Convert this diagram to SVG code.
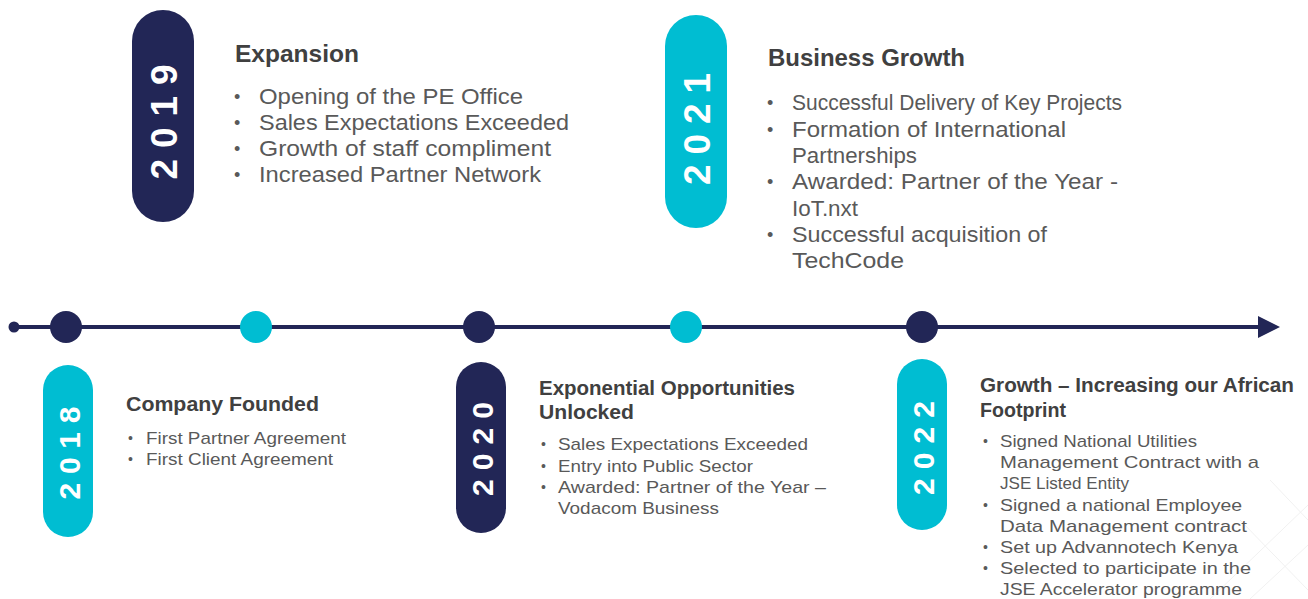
<svg xmlns="http://www.w3.org/2000/svg" width="1308" height="599" viewBox="0 0 1308 599">
<style>
.bg{fill:#ffffff}
.navy{fill:#222656}
.cyan{fill:#00BDD2}
.year{font-family:"Liberation Sans",Arial,sans-serif;font-weight:bold;fill:#ffffff;text-anchor:middle}
.title{font-family:"Liberation Sans",Arial,sans-serif;font-weight:bold;fill:#404040}
.t1{font-size:24px}
.t2{font-size:20px}
.item{font-family:"Liberation Sans",Arial,sans-serif;fill:#595959}
.i1{font-size:22px}
.i2{font-size:17px}
.b1{font-size:18px}
.b2{font-size:14px}
.deco{stroke:#f1f1f1;stroke-width:1;fill:none}
</style>
<rect class="bg" x="0" y="0" width="1308" height="599"/>

<g id="background-decoration">
  <line class="deco" x1="1250" y1="599" x2="1308" y2="545"/>
  <line class="deco" x1="1210" y1="599" x2="1308" y2="505"/>
  <line class="deco" x1="1240" y1="520" x2="1308" y2="590"/>
  <line class="deco" x1="1270" y1="480" x2="1308" y2="520"/>
</g>

<g id="connectors">
  <line x1="14" y1="327" x2="1262" y2="327" stroke="#222656" stroke-width="4"/>
  <circle class="navy" cx="14" cy="327" r="5.5"/>
  <polygon class="navy" points="1258,316 1280,327 1258,338"/>
</g>

<g id="markers">
  <circle class="navy" cx="66" cy="327" r="16"/>
  <circle class="cyan" cx="256" cy="327" r="16"/>
  <circle class="navy" cx="479" cy="327" r="16"/>
  <circle class="cyan" cx="686" cy="327" r="16"/>
  <circle class="navy" cx="922" cy="327" r="16"/>
</g>

<g id="node-2019">
  <rect class="navy" x="132" y="10" width="62" height="212" rx="31"/>
  <text class="year" font-size="37" transform="translate(177,122) rotate(-90)" textLength="115" lengthAdjust="spacing">2019</text>
  <text class="title t1" x="235" y="62" textLength="124" lengthAdjust="spacingAndGlyphs">Expansion</text>
  <g class="item i1">
    <text class="b1" x="234" y="103">•</text><text x="259" y="104" textLength="264" lengthAdjust="spacingAndGlyphs">Opening of the PE Office</text>
    <text class="b1" x="234" y="129">•</text><text x="259" y="130" textLength="310" lengthAdjust="spacingAndGlyphs">Sales Expectations Exceeded</text>
    <text class="b1" x="234" y="155">•</text><text x="259" y="156" textLength="292" lengthAdjust="spacingAndGlyphs">Growth of staff compliment</text>
    <text class="b1" x="234" y="181">•</text><text x="259" y="182" textLength="282" lengthAdjust="spacingAndGlyphs">Increased Partner Network</text>
  </g>
</g>

<g id="node-2021">
  <rect class="cyan" x="665" y="15" width="62" height="213" rx="31"/>
  <text class="year" font-size="37" transform="translate(710,129) rotate(-90)" textLength="112" lengthAdjust="spacing">2021</text>
  <text class="title t1" x="768" y="66" textLength="197" lengthAdjust="spacingAndGlyphs">Business Growth</text>
  <g class="item i1">
    <text class="b1" x="767" y="109">•</text><text x="792" y="110" textLength="330" lengthAdjust="spacingAndGlyphs">Successful Delivery of Key Projects</text>
    <text class="b1" x="767" y="136">•</text><text x="792" y="137" textLength="274" lengthAdjust="spacingAndGlyphs">Formation of International</text>
    <text x="792" y="163" textLength="125" lengthAdjust="spacingAndGlyphs">Partnerships</text>
    <text class="b1" x="767" y="188">•</text><text x="792" y="189" textLength="326" lengthAdjust="spacingAndGlyphs">Awarded: Partner of the Year -</text>
    <text x="792" y="216" textLength="66" lengthAdjust="spacingAndGlyphs">IoT.nxt</text>
    <text class="b1" x="767" y="241">•</text><text x="792" y="242" textLength="255" lengthAdjust="spacingAndGlyphs">Successful acquisition of</text>
    <text x="792" y="268" textLength="112" lengthAdjust="spacingAndGlyphs">TechCode</text>
  </g>
</g>

<g id="node-2018">
  <rect class="cyan" x="43" y="365" width="50" height="172" rx="25"/>
  <text class="year" font-size="30" transform="translate(79.5,453) rotate(-90)" textLength="93" lengthAdjust="spacing">2018</text>
  <text class="title t2" x="126" y="411" textLength="193" lengthAdjust="spacingAndGlyphs">Company Founded</text>
  <g class="item i2">
    <text class="b2" x="128" y="443">•</text><text x="146" y="444" textLength="200" lengthAdjust="spacingAndGlyphs">First Partner Agreement</text>
    <text class="b2" x="128" y="464">•</text><text x="146" y="465" textLength="187" lengthAdjust="spacingAndGlyphs">First Client Agreement</text>
  </g>
</g>

<g id="node-2020">
  <rect class="navy" x="456" y="362" width="50" height="171" rx="25"/>
  <text class="year" font-size="30" transform="translate(492.5,449) rotate(-90)" textLength="94" lengthAdjust="spacing">2020</text>
  <text class="title t2" x="539" y="395" textLength="256" lengthAdjust="spacingAndGlyphs">Exponential Opportunities</text>
  <text class="title t2" x="539" y="419" textLength="95" lengthAdjust="spacingAndGlyphs">Unlocked</text>
  <g class="item i2">
    <text class="b2" x="541" y="449">•</text><text x="558" y="450" textLength="250" lengthAdjust="spacingAndGlyphs">Sales Expectations Exceeded</text>
    <text class="b2" x="541" y="471">•</text><text x="558" y="472" textLength="195" lengthAdjust="spacingAndGlyphs">Entry into Public Sector</text>
    <text class="b2" x="541" y="492">•</text><text x="558" y="493" textLength="268" lengthAdjust="spacingAndGlyphs">Awarded: Partner of the Year –</text>
    <text x="558" y="514" textLength="161" lengthAdjust="spacingAndGlyphs">Vodacom Business</text>
  </g>
</g>

<g id="node-2022">
  <rect class="cyan" x="897" y="359" width="50" height="171" rx="25"/>
  <text class="year" font-size="30" transform="translate(933.5,448) rotate(-90)" textLength="94" lengthAdjust="spacing">2022</text>
  <text class="title t2" x="980" y="392" textLength="314" lengthAdjust="spacingAndGlyphs">Growth – Increasing our African</text>
  <text class="title t2" x="980" y="417" textLength="86" lengthAdjust="spacingAndGlyphs">Footprint</text>
  <g class="item i2">
    <text class="b2" x="983" y="446">•</text><text x="1000" y="447" textLength="197" lengthAdjust="spacingAndGlyphs">Signed National Utilities</text>
    <text x="1000" y="468" textLength="259" lengthAdjust="spacingAndGlyphs">Management Contract with a</text>
    <text x="1000" y="489" textLength="129" lengthAdjust="spacingAndGlyphs">JSE Listed Entity</text>
    <text class="b2" x="983" y="510">•</text><text x="1000" y="511" textLength="242" lengthAdjust="spacingAndGlyphs">Signed a national Employee</text>
    <text x="1000" y="532" textLength="247" lengthAdjust="spacingAndGlyphs">Data Management contract</text>
    <text class="b2" x="983" y="552">•</text><text x="1000" y="553" textLength="238" lengthAdjust="spacingAndGlyphs">Set up Advannotech Kenya</text>
    <text class="b2" x="983" y="573">•</text><text x="1000" y="574" textLength="251" lengthAdjust="spacingAndGlyphs">Selected to participate in the</text>
    <text x="1000" y="595" textLength="242" lengthAdjust="spacingAndGlyphs">JSE Accelerator programme</text>
  </g>
</g>
</svg>
